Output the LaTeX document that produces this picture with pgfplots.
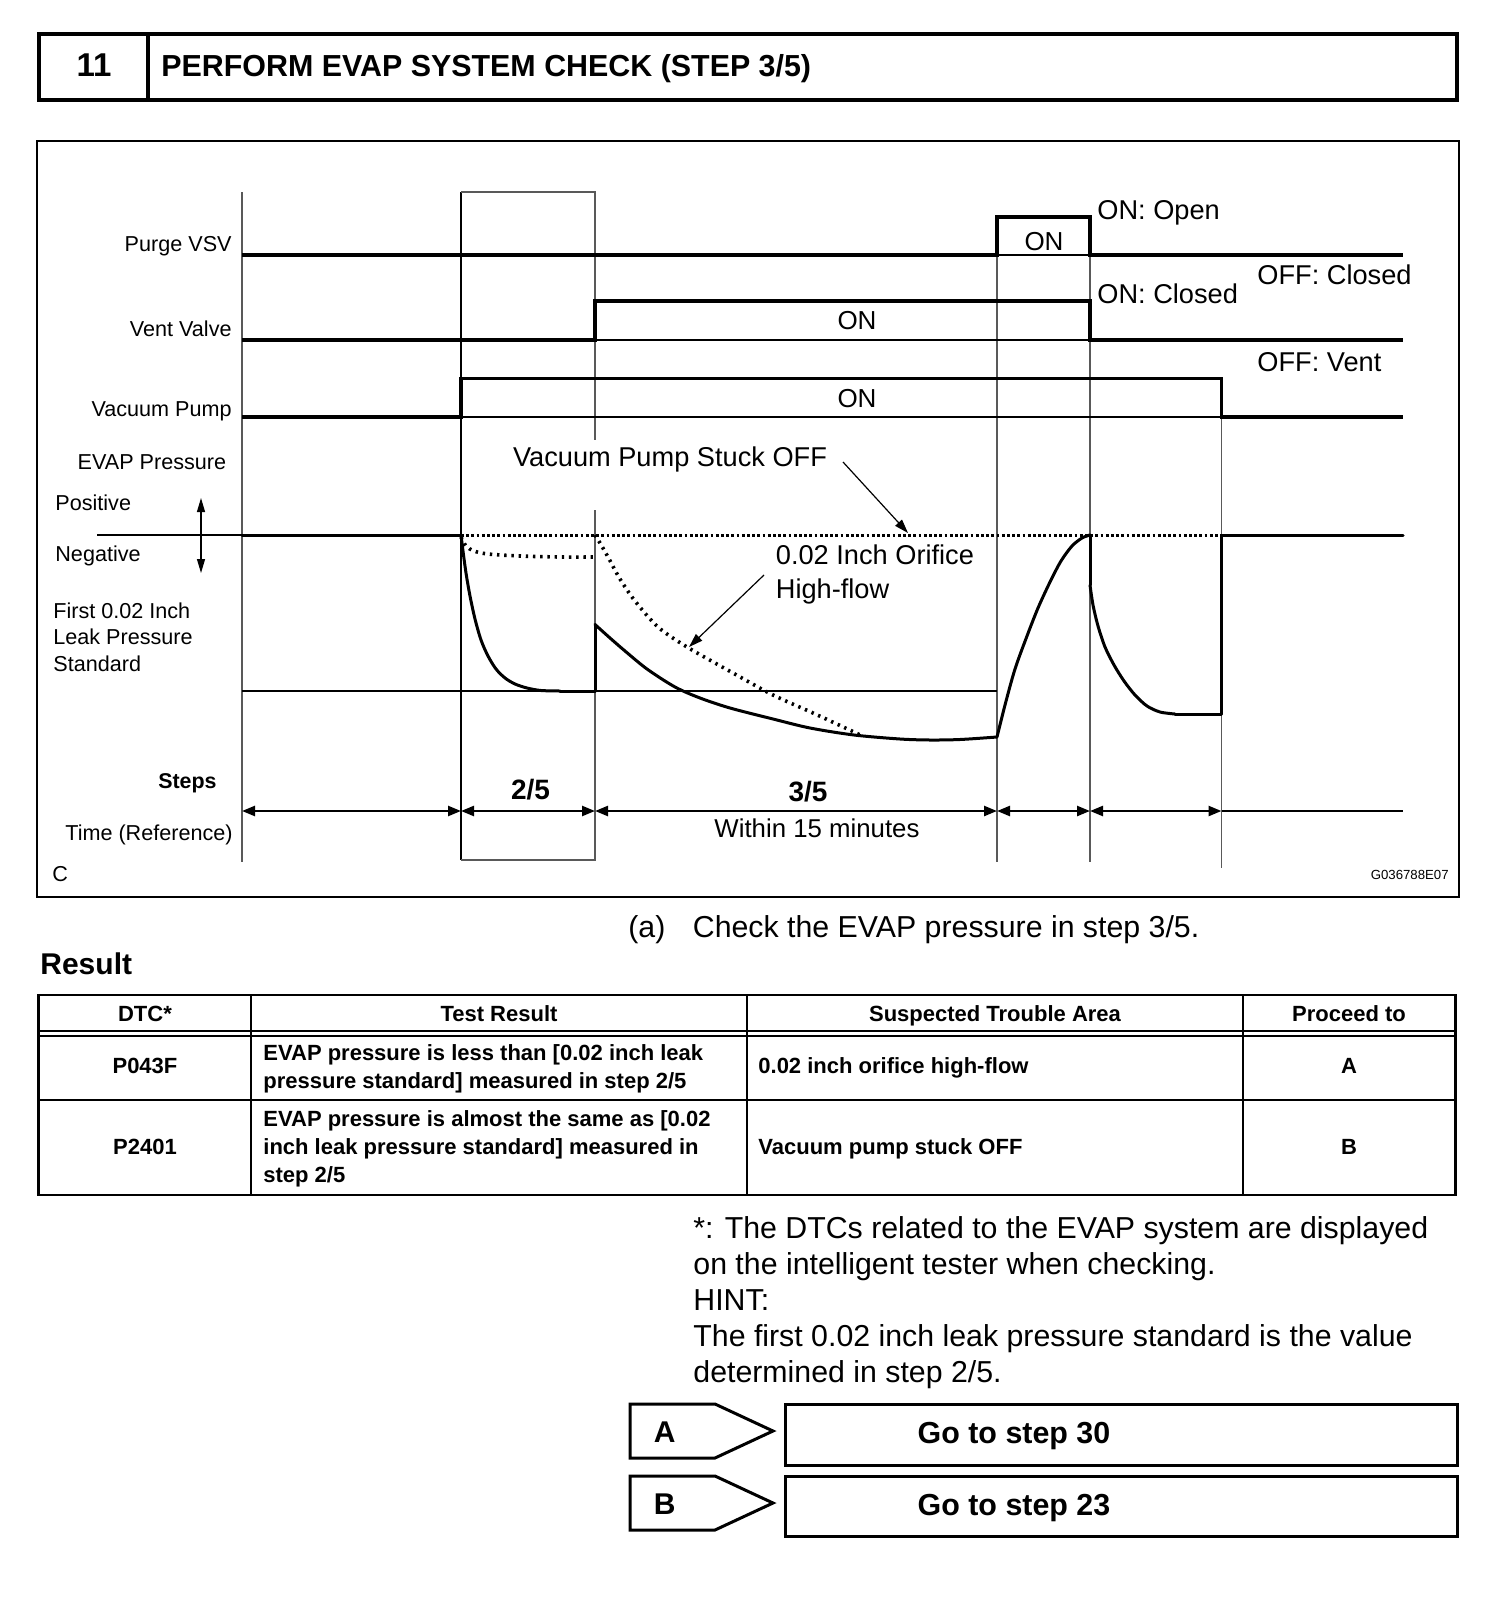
\documentclass[border=0pt]{standalone}
\usepackage{fontspec}
\setmainfont{Liberation Sans}
\usepackage{pgfplots}
\pgfplotsset{compat=1.18}
\usetikzlibrary{arrows.meta}
\newcommand{\fs}[1]{\fontsize{#1}{#1}\selectfont}
\tikzset{
  sig/.style={line width=1.8pt, line join=miter, black},
  pres/.style={line width=1.5pt, line join=round, line cap=round, black},
  thinl/.style={line width=0.6pt, black},
  guide/.style={line width=0.6pt, black!65},
  dotA/.style={line width=1.5pt, dash pattern=on 1.4pt off 1.2pt, black},
  dotB/.style={line width=1.8pt, dash pattern=on 1.2pt off 2.4pt, black},
  lab/.style={font=\fs{10.8}, inner sep=0pt},
  ann/.style={font=\fs{13.6}, inner sep=0pt},
  body/.style={font=\fs{15.15}, inner sep=0pt},
  tab/.style={font=\fs{11}\bfseries, inner sep=0pt},
  tarrow/.style={line width=1.2pt, {Triangle[length=6.5pt,width=5pt]}-{Triangle[length=6.5pt,width=5pt]}},
  parrow/.style={line width=0.6pt, -{Triangle[length=7pt,width=4.5pt]}},
}
\begin{document}
\begin{tikzpicture}
\begin{axis}[
  width=752pt, height=800pt, scale only axis,
  xmin=0, xmax=1504, ymin=0, ymax=1600, y dir=reverse,
  hide axis, clip=false, enlargelimits=false]
\fill[white] (0,0) rectangle (1504,1600);
% ---------- title box
\draw[line width=2pt] (38.8,33.7) rectangle (1457,100);
\draw[line width=2pt] (148,33.7) -- (148,100);
\node[anchor=base, font=\fs{16.5}\bfseries, inner sep=0pt] at (94,77) {11};
\node[anchor=base west, font=\fs{15.2}\bfseries, inner sep=0pt] at (161,76) {PERFORM EVAP SYSTEM CHECK (STEP 3/5)};
% ---------- chart frame
\draw[line width=1pt] (37,141.5) rectangle (1459,897);
% guides
\draw[guide] (242,192) -- (242,862);
\draw[thinl] (461,192) -- (461,860);
\draw[guide] (461,192) -- (595,192) -- (595,440);
\draw[guide] (595,510) -- (595,860) -- (461,860);
\draw[guide] (997,217) -- (997,862);
\draw[guide] (1090,217) -- (1090,862);
\draw[guide] (1221.5,378.6) -- (1221.5,868);
\draw[thinl] (997,255) -- (1090,255);
\draw[thinl] (595,340) -- (1090,340);
\draw[thinl] (461,417) -- (1221.5,417);
\draw[thinl] (97,535) -- (242,535);
\draw[thinl] (242,691) -- (997,691);
% signals
\addplot[sig] coordinates {(242,255) (997,255) (997,217) (1090,217) (1090,255) (1403,255)};
\addplot[sig] coordinates {(242,340) (595,340) (595,301) (1090,301) (1090,340) (1403,340)};
\addplot[sig] coordinates {(242,417) (461,417) (461,378.6) (1221.5,378.6) (1221.5,417) (1403,417)};
% EVAP pressure (dotted)
\addplot[dotA] coordinates {(461,535) (1221.5,535)};
\addplot[dotB, smooth] coordinates {(461,537) (466,546) (474,551) (488,554) (520,556) (560,557) (595,557)};
\addplot[dotB, smooth] coordinates {(595,535) (600,543) (608,557) (620,579) (635,601) (658,627) (687,647) (733,673) (773,695) (813,713) (854,732) (860,735)};
% EVAP pressure (solid)
\addplot[pres] coordinates {(242,535) (461,535)};
\addplot[pres, smooth] coordinates {(461,535) (463,551) (466,573) (470,596) (475,619) (481,640) (488,656) (496,669) (505,678) (515,684) (527,688) (541,690.5) (560,691)};
\addplot[pres] coordinates {(560,691) (595,691) (595,624.5)};
\addplot[pres, smooth] coordinates {(595,624.5) (610,638) (625,651) (647,669) (675,687) (700,698) (730,708) (773,719) (810,728) (854,735) (900,739) (930,740) (960,739.5) (997,737)};
\addplot[pres, smooth] coordinates {(997,737) (1005,705) (1015,669) (1027,636) (1038,608) (1050,582) (1061,561) (1072,546) (1082,538) (1090,535)};
\addplot[pres] coordinates {(1090,535) (1090,585)};
\addplot[pres, smooth] coordinates {(1090,585) (1093,605) (1098,626) (1105,647) (1114,665) (1124,681) (1135,695) (1147,706) (1160,712) (1175,714)};
\addplot[pres] coordinates {(1175,714) (1221.5,714) (1221.5,535) (1403,535)};
% time arrows
\draw[tarrow] (242,811) -- (461,811);
\draw[tarrow] (461,811) -- (595,811);
\draw[tarrow] (595,811) -- (997,811);
\draw[tarrow] (997,811) -- (1090,811);
\draw[tarrow] (1090,811) -- (1221.5,811);
\draw[line width=1.2pt] (1221.5,811) -- (1403,811);
% pointer arrows
\draw[line width=0.6pt, {Triangle[length=7pt,width=4pt]}-{Triangle[length=7pt,width=4pt]}] (201,498) -- (201,573);
\draw[parrow] (843,462) -- (908,533);
\draw[parrow] (764,575) -- (689,647);
% chart labels
\node[lab, anchor=base east] at (232,251) {Purge VSV};
\node[lab, anchor=base east] at (232,336.5) {Vent Valve};
\node[lab, anchor=base east] at (232,416) {Vacuum Pump};
\node[lab, anchor=base east] at (226.5,469) {EVAP Pressure};
\node[lab, anchor=base west] at (55,510) {Positive};
\node[lab, anchor=base west] at (55,561) {Negative};
\node[lab, anchor=base west] at (53,618) {First 0.02 Inch};
\node[lab, anchor=base west] at (53,644.5) {Leak Pressure};
\node[lab, anchor=base west] at (53,671) {Standard};
\node[lab, anchor=base east, font=\fs{10.7}\bfseries] at (217,788) {Steps};
\node[lab, anchor=base east] at (233,840) {Time (Reference)};
\node[lab, anchor=base west] at (52,881) {C};
\node[anchor=base east, font=\fs{6.6}, inner sep=0pt] at (1449,879) {G036788E07};
\node[ann, anchor=base] at (670,466) {Vacuum Pump Stuck OFF};
\node[ann, anchor=base west] at (775.5,564) {0.02 Inch Orifice};
\node[ann, anchor=base west] at (775.5,598) {High-flow};
\node[ann, anchor=base west] at (1097,219) {ON: Open};
\node[ann, anchor=base west] at (1257,284) {OFF: Closed};
\node[ann, anchor=base west] at (1097,303) {ON: Closed};
\node[ann, anchor=base west] at (1257,371) {OFF: Vent};
\node[anchor=base, font=\fs{13}, inner sep=0pt] at (1044,250) {ON};
\node[anchor=base, font=\fs{13}, inner sep=0pt] at (857,329.5) {ON};
\node[anchor=base, font=\fs{13}, inner sep=0pt] at (857,407.5) {ON};
\node[anchor=base, font=\fs{14}\bfseries, inner sep=0pt] at (530.6,799) {2/5};
\node[anchor=base, font=\fs{14}\bfseries, inner sep=0pt] at (808,801) {3/5};
\node[anchor=base, font=\fs{12.9}, inner sep=0pt] at (817,837) {Within 15 minutes};
% ---------- text below
\node[body, anchor=base west] at (628,937.6) {(a)};
\node[body, anchor=base west] at (692.5,937.6) {Check the EVAP pressure in step 3/5.};
\node[body, anchor=base west, font=\fs{15}\bfseries] at (40,974) {Result};
% ---------- table
\draw[line width=1.2pt] (38.5,995) rectangle (1455.5,1195);
\draw[line width=1pt] (251,995) -- (251,1195);
\draw[line width=1pt] (747,995) -- (747,1195);
\draw[line width=1pt] (1243,995) -- (1243,1195);
\draw[line width=1pt] (38.5,1031) -- (1455.5,1031);
\draw[line width=1pt] (38.5,1036) -- (1455.5,1036);
\draw[line width=1pt] (38.5,1100) -- (1455.5,1100);
\node[tab, anchor=base] at (145,1021) {DTC*};
\node[tab, anchor=base] at (499,1021) {Test Result};
\node[tab, anchor=base] at (995,1021) {Suspected Trouble Area};
\node[tab, anchor=base] at (1349,1021) {Proceed to};
\node[tab, anchor=base] at (145,1073) {P043F};
\node[tab, anchor=base west] at (263,1060) {EVAP pressure is less than [0.02 inch leak};
\node[tab, anchor=base west] at (263,1088) {pressure standard] measured in step 2/5};
\node[tab, anchor=base west] at (758,1073) {0.02 inch orifice high-flow};
\node[tab, anchor=base] at (1349,1073) {A};
\node[tab, anchor=base] at (145,1154.6) {P2401};
\node[tab, anchor=base west] at (263,1126) {EVAP pressure is almost the same as [0.02};
\node[tab, anchor=base west] at (263,1154.6) {inch leak pressure standard] measured in};
\node[tab, anchor=base west] at (263,1182) {step 2/5};
\node[tab, anchor=base west] at (758,1154.6) {Vacuum pump stuck OFF};
\node[tab, anchor=base] at (1349,1154.6) {B};
% ---------- notes
\node[body, anchor=base west] at (693,1238) {*: The DTCs related to the EVAP system are displayed};
\node[body, anchor=base west] at (693,1274) {on the intelligent tester when checking.};
\node[body, anchor=base west] at (693,1310) {HINT:};
\node[body, anchor=base west] at (693,1346) {The first 0.02 inch leak pressure standard is the value};
\node[body, anchor=base west] at (693,1382) {determined in step 2/5.};
% ---------- A / B boxes
\draw[line width=1.5pt, line join=miter] (630,1404) -- (715,1404) -- (773,1431) -- (715,1458) -- (630,1458) -- cycle;
\draw[line width=1.5pt] (785.6,1404) rectangle (1457,1465);
\draw[line width=1.5pt, line join=miter] (630,1476) -- (715,1476) -- (773,1503) -- (715,1530) -- (630,1530) -- cycle;
\draw[line width=1.5pt] (785.6,1476.7) rectangle (1457,1536.7);
\node[anchor=base, font=\fs{15}\bfseries, inner sep=0pt] at (664.6,1442.5) {A};
\node[anchor=base, font=\fs{15}\bfseries, inner sep=0pt] at (664.6,1514) {B};
\node[anchor=base, font=\fs{15.2}\bfseries, inner sep=0pt] at (1014,1443) {Go to step 30};
\node[anchor=base, font=\fs{15.2}\bfseries, inner sep=0pt] at (1014,1515) {Go to step 23};
\end{axis}
\end{tikzpicture}
\end{document}
